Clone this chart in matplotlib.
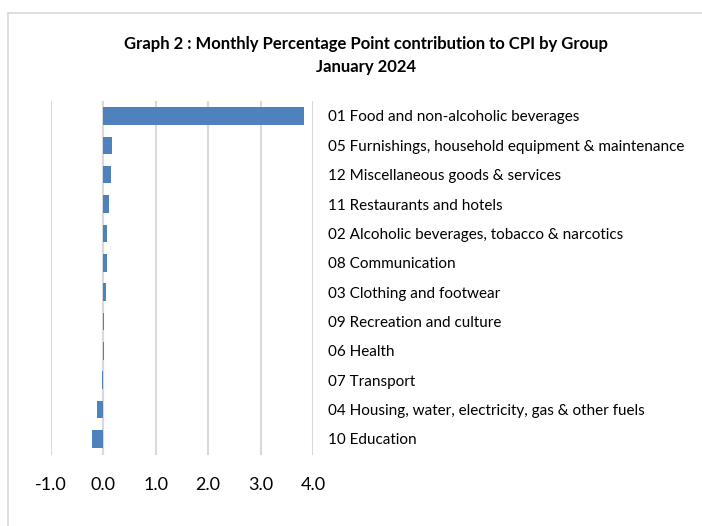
import matplotlib
matplotlib.use("Agg")
import matplotlib.pyplot as plt
from matplotlib.lines import Line2D

plt.rcParams['font.family'] = ['Lato', 'DejaVu Sans']

# groups, top to bottom as in the chart
groups = [
    "01 Food and non-alcoholic beverages",
    "05 Furnishings, household equipment & maintenance",
    "12 Miscellaneous goods & services",
    "11 Restaurants and hotels",
    "02 Alcoholic beverages, tobacco & narcotics",
    "08 Communication",
    "03 Clothing and footwear",
    "09 Recreation and culture",
    "06 Health",
    "07 Transport",
    "04 Housing, water, electricity, gas & other fuels",
    "10 Education",
]
contrib = [3.82, 0.16, 0.14, 0.11, 0.07, 0.06, 0.05, 0.02, 0.01, -0.03, -0.12, -0.21]
xticks = [-1.0, 0.0, 1.0, 2.0, 3.0, 4.0]

fig = plt.figure(figsize=(7.02, 5.26), dpi=100)
ax = fig.add_axes([51 / 702, 1 - 455 / 526, (313 - 51) / 702, (455 - 101) / 526])

ypos = list(range(len(groups)))[::-1]
ax.barh(ypos, contrib, height=0.6, color='#4f81bd', zorder=3)

ax.set_xlim(-1, 4)
ax.set_ylim(-0.55, len(groups) - 0.49)
ax.set_xticks(xticks)
ax.set_xticklabels([f"{t:.1f}" for t in xticks], fontsize=13)
ax.tick_params(axis='x', length=0, pad=16)
ax.grid(axis='x', color='#d9d9d9', linewidth=1.5, zorder=0)

ax.set_yticks(ypos)
ax.set_yticklabels(groups, fontsize=11)
ax.yaxis.tick_right()
ax.tick_params(axis='y', length=0, pad=11)
for s in ax.spines.values():
    s.set_visible(False)
ax.axvline(0, color='#d9d9d9', linewidth=1.5, zorder=1)

fig.text(366 / 702, 1 - 44 / 526, "Graph 2 : Monthly Percentage Point contribution to CPI by Group",
         ha='center', va='center', fontsize=12, fontweight='bold')
fig.text(366 / 702, 1 - 67 / 526, "January 2024",
         ha='center', va='center', fontsize=12, fontweight='bold')

# chart frame (only left and top edges are visible in the crop)
fig.add_artist(Line2D([8 / 702, 8 / 702], [0, 1 - 13 / 526], color='#d9d9d9', linewidth=1.2))
fig.add_artist(Line2D([8 / 702, 1], [1 - 13 / 526, 1 - 13 / 526], color='#d9d9d9', linewidth=1.2))

fig.savefig("out.png", dpi=100)
